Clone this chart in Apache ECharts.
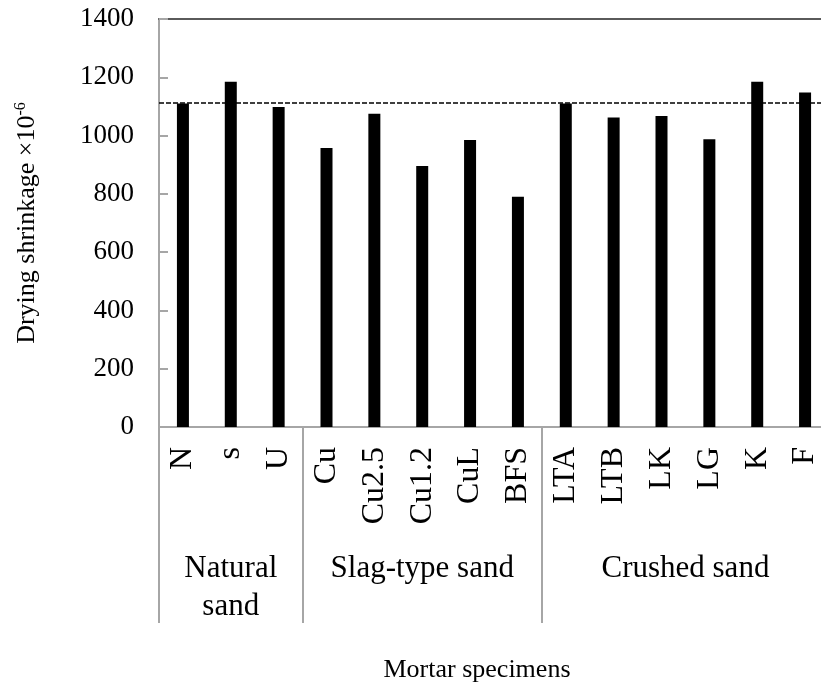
<!DOCTYPE html>
<html>
<head>
<meta charset="utf-8">
<script src="https://cdn.jsdelivr.net/npm/echarts@6/dist/echarts.min.js"></script>
<style>
  html, body { margin: 0; padding: 0; background: #ffffff; }
  #chart { width: 821px; height: 688px; }
</style>
</head>
<body>
<div id="chart"></div>
<script>
// specimens and measured drying shrinkage (x10^-6)
const categories = ['N', 's', 'U', 'Cu', 'Cu2.5', 'Cu1.2', 'CuL', 'BFS', 'LTA', 'LTB', 'LK', 'LG', 'K', 'F'];
const shrinkage = [1110, 1185, 1098, 957, 1075, 896, 985, 790, 1110, 1062, 1067, 987, 1185, 1148];
const referenceLevel = 1111;
// sand groups: name, first index, last index
const groupNames = ['Natural\nsand', 'Slag-type sand', 'Crushed sand'];
const groupStart = [0, 3, 8];
const groupEnd = [2, 7, 13];

const FONT = '"Liberation Serif", "DejaVu Serif", serif';
const chart = echarts.init(document.getElementById('chart'));

const boundaries = new Set(groupStart.concat([categories.length]));

const option = {
    backgroundColor: '#ffffff',
    animation: false,
    grid: { left: 159, top: 19, width: 670, bottom: 261, outerBoundsMode: 'none', containLabel: false },
    xAxis: [
        {
            type: 'category',
            data: categories,
            axisLine: { lineStyle: { color: '#a6a6a6', width: 2 } },
            axisTick: { show: false },
            axisLabel: {
                rotate: 90,
                margin: 20,
                fontFamily: FONT,
                fontSize: 32,
                color: '#000000'
            }
        },
        {
            // only used for the group separators below the axis
            type: 'category',
            data: categories,
            position: 'bottom',
            axisLine: { show: false },
            axisLabel: { show: false },
            axisTick: {
                show: true,
                length: 196,
                interval: (i) => boundaries.has(i),
                lineStyle: { color: '#a6a6a6', width: 2 }
            }
        },
        {
            // top frame line
            type: 'category',
            data: categories,
            position: 'top',
            axisLine: { lineStyle: { color: '#5a5a5a', width: 2 } },
            axisTick: { show: false },
            axisLabel: { show: false }
        }
    ],
    yAxis: {
        type: 'value',
        min: 0,
        max: 1400,
        interval: 200,
        name: 'Drying shrinkage ×10{sup|-6}',
        nameLocation: 'middle',
        nameGap: 118,
        nameRotate: 90,
        nameTextStyle: {
            fontFamily: FONT,
            fontSize: 26,
            color: '#000000',
            rich: {
                sup: { fontFamily: FONT, fontSize: 16, verticalAlign: 'top', padding: [0, 0, 12, 0] }
            }
        },
        axisLine: { show: true, lineStyle: { color: '#a6a6a6', width: 2 } },
        axisTick: { show: true, inside: true, length: 9, lineStyle: { color: '#a6a6a6', width: 2 } },
        axisLabel: {
            margin: 25,
            fontFamily: FONT,
            fontSize: 27,
            color: '#000000',
            formatter: (v) => String(v)
        },
        splitLine: { show: false }
    },
    series: [{
        type: 'bar',
        data: shrinkage,
        barWidth: 12,
        itemStyle: { color: '#000000' },
        markLine: {
            silent: true,
            symbol: 'none',
            label: { show: false },
            lineStyle: { color: '#000000', type: [5, 2], width: 1.5 },
            data: [{ yAxis: referenceLevel }]
        }
    }]
};

chart.setOption(option);

// group labels centred under their specimens, plus the axis title
const texts = groupNames.map((name, g) => {
    const x0 = chart.convertToPixel({ xAxisIndex: 0 }, categories[groupStart[g]]);
    const x1 = chart.convertToPixel({ xAxisIndex: 0 }, categories[groupEnd[g]]);
    return {
        type: 'text',
        x: (x0 + x1) / 2,
        y: 550,
        style: {
            text: name,
            align: 'center',
            verticalAlign: 'top',
            font: '31px ' + FONT,
            lineHeight: 38,
            fill: '#000000'
        }
    };
});
texts.push({
    type: 'text',
    x: 477,
    y: 670,
    style: {
        text: 'Mortar specimens',
        align: 'center',
        verticalAlign: 'middle',
        font: '26px ' + FONT,
        fill: '#000000'
    }
});
chart.setOption({ graphic: texts });
</script>
</body>
</html>
